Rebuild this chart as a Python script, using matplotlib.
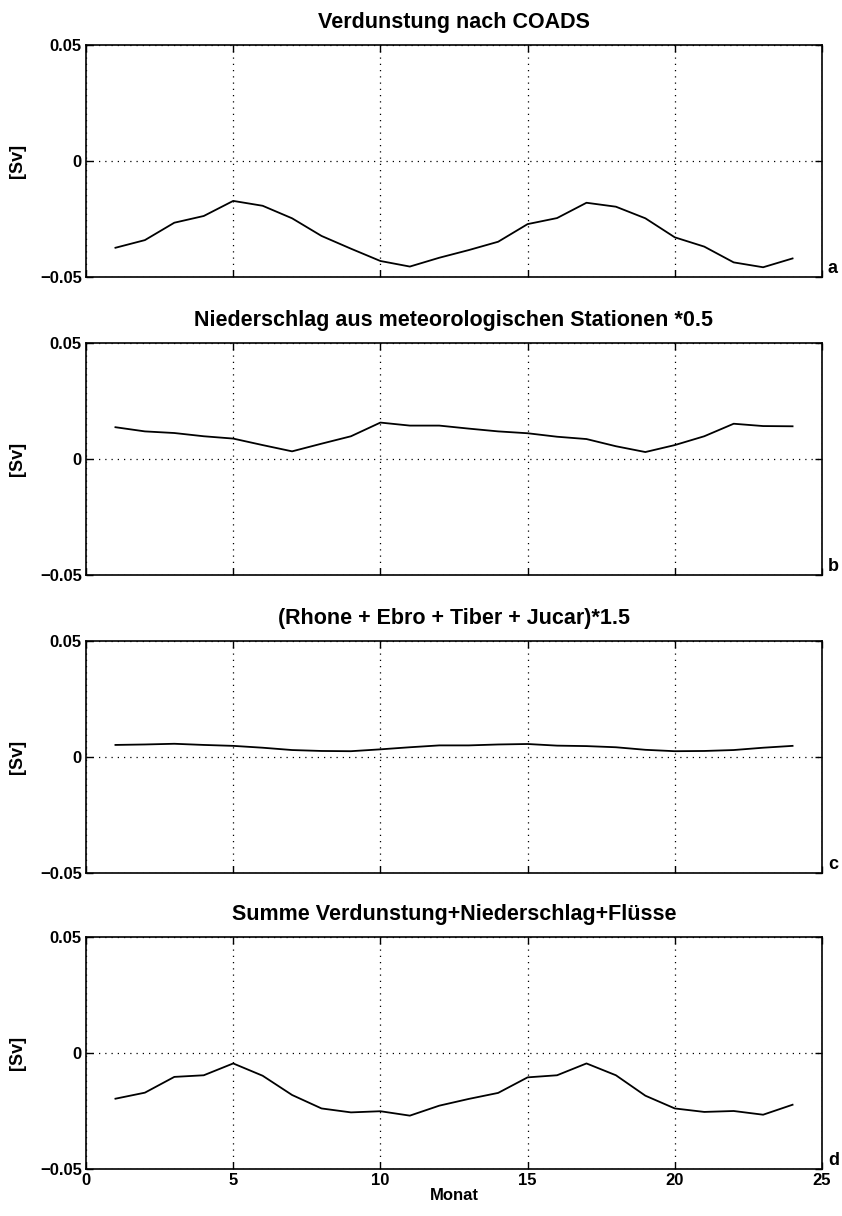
import matplotlib
matplotlib.use("Agg")
import matplotlib.pyplot as plt
from matplotlib import font_manager

fams = {f.name for f in font_manager.fontManager.ttflist}
fam = ['Liberation Sans Narrow'] if 'Liberation Sans Narrow' in fams else ['Liberation Sans']
plt.rcParams['font.family'] = fam + ['DejaVu Sans']
plt.rcParams['font.weight'] = 'bold'

months = list(range(1, 25))

evap = [-0.0374, -0.0341, -0.0266, -0.0237, -0.0172, -0.0193, -0.0247, -0.0323,
        -0.0378, -0.0431, -0.0455, -0.0417, -0.0384, -0.0348, -0.0272, -0.0246,
        -0.0180, -0.0197, -0.0247, -0.0329, -0.0369, -0.0437, -0.0458, -0.0420]

precip = [0.0137, 0.0119, 0.0112, 0.0098, 0.0088, 0.0060, 0.0033, 0.0066,
          0.0098, 0.0157, 0.0144, 0.0144, 0.0131, 0.0119, 0.0111, 0.0096,
          0.0086, 0.0055, 0.0030, 0.0060, 0.0098, 0.0152, 0.0142, 0.0141]

rivers = [0.0052, 0.0054, 0.0057, 0.0052, 0.0048, 0.0040, 0.0030, 0.0026,
          0.0025, 0.0033, 0.0042, 0.0050, 0.0050, 0.0054, 0.0056, 0.0049,
          0.0047, 0.0042, 0.0031, 0.0025, 0.0026, 0.0030, 0.0040, 0.0048]

total = [-0.0197, -0.0171, -0.0103, -0.0096, -0.0045, -0.0098, -0.0181, -0.0239,
         -0.0256, -0.0251, -0.0270, -0.0227, -0.0198, -0.0172, -0.0105, -0.0096,
         -0.0045, -0.0096, -0.0184, -0.0239, -0.0254, -0.0250, -0.0266, -0.0223]

titles = ["Verdunstung nach COADS",
          "Niederschlag aus meteorologischen Stationen *0.5",
          "(Rhone + Ebro + Tiber + Jucar)*1.5",
          "Summe Verdunstung+Niederschlag+Flüsse"]
letters = ["a", "b", "c", "d"]
series = [evap, precip, rivers, total]

xticks = [0, 5, 10, 15, 20, 25]
yticks = [-0.05, 0, 0.05]
yticklabels = ["\u22120.05", "0", "0.05"]

W, H = 842, 1216
fig = plt.figure(figsize=(W / 100, H / 100), dpi=100)

left, right = 86, 822
tops = [45, 343, 641, 937]
height = 232

for i, (t, ys, lab) in enumerate(zip(titles, series, letters)):
    top = tops[i]
    ax = fig.add_axes([left / W, 1 - (top + height) / H, (right - left) / W, height / H])
    ax.plot(months, ys, color='black', lw=1.3)
    ax.set_xlim(0, 25)
    ax.set_ylim(-0.05, 0.05)
    ax.set_xticks(xticks)
    ax.set_yticks(yticks)
    ax.set_yticklabels(yticklabels, fontsize=12, fontweight='bold')
    if i == 3:
        ax.set_xticklabels([str(v) for v in xticks], fontsize=12, fontweight='bold')
        ax.set_xlabel("Monat", fontsize=12, fontweight='bold', labelpad=0)
    else:
        ax.set_xticklabels([])
    ax.tick_params(direction='in', top=True, right=True, length=5, width=1, pad=3)
    ax.grid(True, linestyle=(0, (1, 4)), color='black', lw=0.9)
    ax.set_title(t, fontsize=15.5, fontweight='bold', pad=12)
    ax.set_ylabel("[Sv]", fontsize=13, fontweight='bold', labelpad=10)
    for s in ax.spines.values():
        s.set_linewidth(1.2)
    ax.text(1.008, 0.0, lab, transform=ax.transAxes, fontsize=13, fontweight='bold',
            ha='left', va='bottom')

fig.savefig("out.png", dpi=100)
